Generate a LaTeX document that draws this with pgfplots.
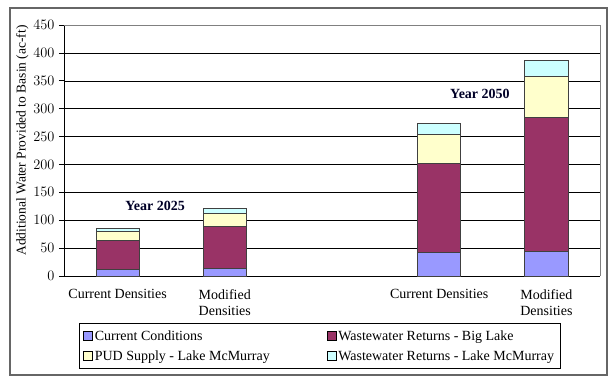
\documentclass[border=0pt]{standalone}
\usepackage{pgfplots}
\pgfplotsset{compat=1.18}
\usepackage{fontspec}
\setmainfont{Liberation Serif}
\definecolor{cblue}{HTML}{9999FF}
\definecolor{cmaroon}{HTML}{993366}
\definecolor{cyellow}{HTML}{FFFFCC}
\definecolor{ccyan}{HTML}{CCFFFF}
\begin{document}
\begin{tikzpicture}[x=1pt,y=1pt]
\useasboundingbox (-64,-108) rectangle (552,276);
\draw[gray!80!black, line width=1.2pt] (-54,268) rectangle (543,-99);
\begin{axis}[
  at={(0,0)}, anchor=south west,
  scale only axis, width=536pt, height=251pt,
  ybar stacked, bar width=43pt,
  xmin=-0.5, xmax=4.5, ymin=0, ymax=450,
  ytick={0,50,...,450},
  ymajorgrids, grid style={black, line width=0.5pt},
  axis x line*=bottom, axis y line*=left,
  axis line style={black, line width=0.6pt, -},
  xtick={0,1,3,4},
  xticklabels={Current Densities, Modified\\Densities, Current Densities, Modified\\Densities},
  xticklabel style={align=center, font=\fontsize{14}{16}\selectfont, yshift=-5pt},
  major x tick style={draw=none},
  extra x ticks={-0.5,0.5,1.5,2.5,3.5,4.5},
  extra x tick labels={},
  extra x tick style={major tick length=5pt, tick style={black, line width=0.6pt}, tick align=outside, grid=none},
  y tick style={black, line width=0.6pt},
  major tick length=5pt, tick align=outside,
  yticklabel style={font=\fontsize{14}{16}\selectfont, xshift=-1pt},
  ylabel={Additional Water Provided to Basin (ac-ft)},
  ylabel style={font=\fontsize{13.5}{15}\selectfont, at={(axis description cs:-0.078,0.54)}, anchor=center},
  legend columns=2,
  legend style={at={(15pt,-47pt)}, anchor=north west, draw=black, line width=0.6pt,
    font=\fontsize{14}{16}\selectfont, row sep=5pt, inner xsep=4pt, inner ysep=5pt,
    /tikz/every even column/.append style={column sep=55pt}},
  legend cell align=left,
  legend image code/.code={\draw[#1, draw=black, line width=0.5pt] (0pt,-4pt) rectangle (9pt,5pt);},
  every axis plot/.append style={draw=black!75, line width=0.8pt},
  clip=false,
]
\addplot[fill=cblue] coordinates {(0,12) (1,14) (3,42) (4,44)};
\addplot[fill=cmaroon] coordinates {(0,51) (1,75) (3,159) (4,240)};
\addplot[fill=cyellow] coordinates {(0,17) (1,23) (3,52) (4,74)};
\addplot[fill=ccyan] coordinates {(0,6) (1,9) (3,20) (4,29)};
\legend{Current Conditions, Wastewater Returns - Big Lake, PUD Supply - Lake McMurray, Wastewater Returns - Lake McMurray}
\draw[gray, line width=0.8pt] (rel axis cs:0,1) -- (rel axis cs:1,1) -- (rel axis cs:1,0);
\node[font=\bfseries\fontsize{14}{16}\selectfont, text=black!85!blue] at (axis cs:0.35,125) {Year 2025};
\node[font=\bfseries\fontsize{14}{16}\selectfont, text=black!85!blue] at (axis cs:3.38,326) {Year 2050};
\end{axis}
\end{tikzpicture}
\end{document}
